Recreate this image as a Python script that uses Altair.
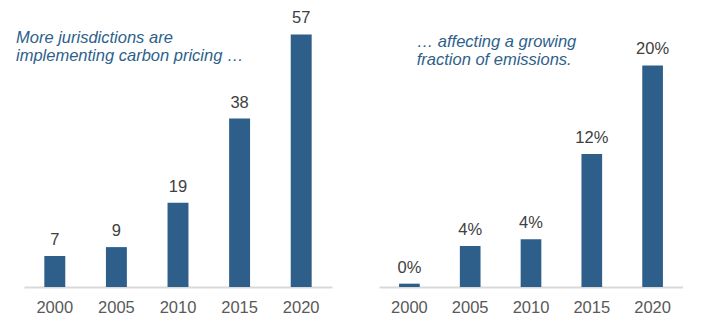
import altair as alt
import pandas as pd

years = ["2000", "2005", "2010", "2015", "2020"]
jurisdictions = [7, 9, 19, 38, 57]
emission_share = [0.3, 3.7, 4.3, 12.0, 20.0]

left_title = "More jurisdictions are\nimplementing carbon pricing \u2026"
right_title = "\u2026 affecting a growing\nfraction of emissions."

BAR = "#2E5F8A"
TXT = "#404040"
AX = "#595959"
FONT = "Liberation Sans"

left_df = pd.DataFrame({"year": years, "v": jurisdictions})
right_df = pd.DataFrame({"year": years, "v": emission_share})


def panel(df, width, ymax, label_expr, title, tx, ty):
    x = alt.X("year:N", sort=years, title=None,
              scale=alt.Scale(paddingInner=0.66, paddingOuter=0.33),
              axis=alt.Axis(labelAngle=0, ticks=False, labelPadding=12,
                            labelFontSize=16.5, labelColor=AX, labelFont=FONT,
                            domainColor="#D9D9D9", domainWidth=2, grid=False))
    y = alt.Y("v:Q", scale=alt.Scale(domain=[0, ymax], nice=False), axis=None)
    base = alt.Chart(df).encode(x=x, y=y)
    bars = base.mark_bar(color=BAR)
    labels = base.transform_calculate(lab=label_expr).mark_text(
        baseline="alphabetic", dy=-11, fontSize=16.5, font=FONT, color=TXT
    ).encode(text="lab:N")
    ttl = alt.Chart(pd.DataFrame({"t": [title]})).mark_text(
        align="left", baseline="alphabetic", fontSize=16.5, font=FONT,
        fontStyle="italic", color=BAR, lineBreak="\n", lineHeight=18.5
    ).encode(x=alt.value(tx), y=alt.value(ty), text="t:N")
    return alt.layer(bars, labels, ttl).properties(width=width, height=277)


left = panel(left_df, 308, 62.5, "format(datum.v, 'd')", left_title, -8, 32.7)
right = panel(right_df, 304, 25, "format(datum.v, '.0f') + '%'", right_title, 37.7, 36.7)

chart = alt.hconcat(left, right, spacing=47).properties(
    padding={"left": 16, "top": 10, "right": 0, "bottom": 0},
    background="white",
).configure_view(stroke=None)

chart.save("out.html", embed_options={"renderer": "svg", "actions": False})
